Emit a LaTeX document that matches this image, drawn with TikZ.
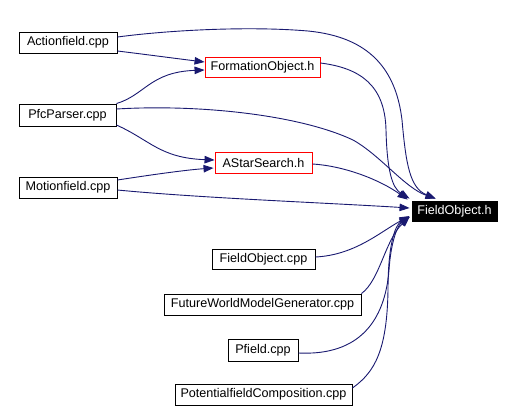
\documentclass[tikz,border=0pt]{standalone}
\usepackage{fontspec}
\setmainfont{Liberation Sans}
\usetikzlibrary{arrows.meta,calc}
\definecolor{edgec}{RGB}{25,25,112}
\tikzset{
  box/.style={draw=black,line width=0.9bp,inner sep=0pt,font=\fontsize{12.6bp}{14bp}\selectfont,text=black,anchor=center},
  redbox/.style={box,draw=red},
  focus/.style={box,fill=black,text=white},
  edge/.style={draw=edgec,line width=0.9bp,-{Triangle[length=10bp,width=7.5bp]}}
}
\begin{document}
\begin{tikzpicture}[x=1bp,y=-1bp]
\useasboundingbox (0,0) rectangle (513,412);
\node[box,minimum width=98bp,minimum height=21bp] (act) at (68,42.5) {Actionfield.cpp};
\node[redbox,minimum width=115bp,minimum height=20bp] (fo) at (262.5,67) {FormationObject.h};
\node[box,minimum width=97bp,minimum height=22bp] (pfc) at (67.5,115) {PfcParser.cpp};
\node[redbox,minimum width=97bp,minimum height=21bp] (as) at (263.5,162.5) {AStarSearch.h};
\node[box,minimum width=98bp,minimum height=21bp] (mf) at (68,187.5) {Motionfield.cpp};
\node[focus,minimum width=85bp,minimum height=20bp] (foh) at (454.5,211) {FieldObject.h};
\node[box,minimum width=103bp,minimum height=20bp] (foc) at (263.5,259) {FieldObject.cpp};
\node[box,minimum width=197bp,minimum height=21bp] (fw) at (262.5,304.5) {FutureWorldModelGenerator.cpp};
\node[box,minimum width=70bp,minimum height=22bp] (pf) at (263,350) {Pfield.cpp};
\node[box,minimum width=177bp,minimum height=21bp] (pc) at (263.5,394.5) {PotentialfieldComposition.cpp};

\draw[edge] ($(act.east)+(0,-5.5)$) .. controls (170,30) and (250,26) .. (308,31)
  .. controls (370,37) and (396,70) .. (402,120)
  .. controls (406,165) and (410,188) .. ($(foh.north west)+(24,-2)$);
\draw[edge] ($(act.east)+(0,8.5)$) .. controls (150,55) and (180,59) .. ($(fo.west)+(0,-5)$);
\draw[edge] (pfc.north east) .. controls (145,95) and (150,72) .. ($(fo.west)+(0,3)$);
\draw[edge] ($(fo.east)+(0,-4)$) .. controls (360,68) and (385,85) .. (386,130)
  .. controls (387,170) and (392,188) .. ($(foh.north west)+(-2,-2)$);
\draw[edge] ($(pfc.east)+(0,-6)$) .. controls (200,104) and (300,115) .. (353,140)
  .. controls (380,155) and (405,188) .. ($(foh.north west)+(24,-2)$);
\draw[edge] ($(pfc.east)+(0,10)$) .. controls (150,140) and (160,158) .. ($(as.west)+(0,-2.5)$);
\draw[edge] ($(mf.east)+(0,-7.5)$) .. controls (150,175) and (185,170) .. ($(as.west)+(-1,5.5)$);
\draw[edge] ($(as.east)+(0,1.5)$) .. controls (345,166) and (380,180) .. ($(foh.north west)+(-4,-1)$);
\draw[edge] ($(mf.east)+(0,2.5)$) .. controls (200,198) and (330,203) .. ($(foh.west)+(-2,-3)$);
\draw[edge] ($(foc.east)+(0,-2)$) .. controls (355,255) and (380,232) .. ($(foh.west)+(-2,5)$);
\draw[edge] (fw.north east) .. controls (380,280) and (385,240) .. ($(foh.west)+(-2,6)$);
\draw[edge] ($(pf.east)+(0,3)$) .. controls (360,356) and (385,320) .. (389,270)
  .. controls (391,240) and (398,225) .. ($(foh.west)+(-2,6)$);
\draw[edge] ($(pc.east)+(0,-6.5)$) .. controls (375,372) and (387,350) .. (388,290)
  .. controls (388,245) and (395,225) .. ($(foh.west)+(-2,6)$);
\end{tikzpicture}
\end{document}
